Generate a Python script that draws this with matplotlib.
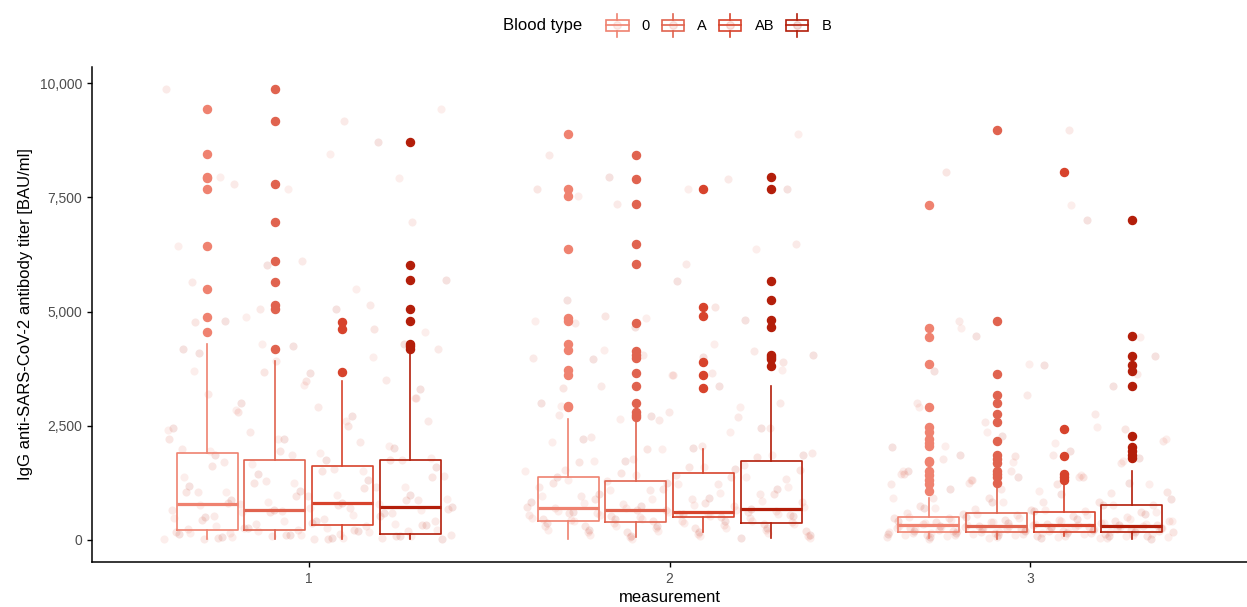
import matplotlib.pyplot as plt
from matplotlib.legend_handler import HandlerBase
from matplotlib.patches import Rectangle
from matplotlib.lines import Line2D
from matplotlib.ticker import FuncFormatter

plt.rcParams['font.family'] = ['Liberation Sans', 'DejaVu Sans']

measurements = [1, 2, 3]
blood_types = ['0', 'A', 'AB', 'B']
type_colors = ['#EF8270', '#E0634F', '#D7432C', '#B31E0A']

# box statistics, one row per measurement, one column per blood type
box_q1 = [[219, 204, 314, 132], [401, 380, 490, 366], [169, 169, 169, 169]]
box_med = [[789, 658, 804, 724], [695, 658, 607, 673], [314, 300, 322, 292]]
box_q3 = [[1893, 1748, 1608, 1739], [1367, 1279, 1454, 1732], [504, 577, 607, 753]]
whisk_lo = [[15, 10, 15, 15], [15, 60, 169, 37], [37, 22, 73, 22]]
whisk_hi = [[4291, 3925, 3472, 4100], [2654, 2617, 1996, 3377], [914, 1228, 1228, 1513]]

outliers_m1 = [
    [9437, 8458, 7954, 7917, 7691, 6441, 5498, 4884, 4561],
    [9868, 9182, 7785, 6952, 6112, 5658, 5154, 5066, 4189],
    [4766, 4620, 3678],
    [8706, 6015, 5686, 5051, 4787, 4298, 4240, 4189],
]
outliers_m2 = [
    [8897, 7676, 7529, 6382, 4850, 4790, 4290, 4160, 3710, 3600, 2940, 2910],
    [8421, 7895, 7362, 6470, 6053, 4759, 4130, 4057, 3985, 3648, 3370, 2997, 2792, 2741, 2690],
    [7676, 5095, 4898, 3897, 3619, 3318],
    [7939, 7676, 5680, 5248, 4825, 4664, 4042, 4000, 3960, 3801],
]
outliers_m3 = [
    [7332, 4649, 4437, 3845, 2901, 2471, 2354, 2208, 2120, 2047, 1732, 1700, 1498, 1410, 1316, 1221, 1075],
    [8976, 4803, 3641, 3165, 2997, 2763, 2573, 2157, 1864, 1776, 1681, 1500, 1440, 1367, 1250],
    [8048, 2420, 1842, 1440, 1367, 1300],
    [7003, 4459, 4035, 3838, 3706, 3377, 2281, 2025, 1952, 1864, 1791],
]

# individual titers inside the whiskers
inner_m1 = [
    [15, 30, 55, 80, 110, 140, 170, 200, 219, 250, 300, 350, 420, 480, 540, 600, 650, 700, 760, 789,
     830, 900, 980, 1050, 1150, 1250, 1380, 1500, 1650, 1800, 1893, 1950, 2050, 2200, 2400, 2600,
     2850, 3100, 3400, 3700, 4000, 4291],
    [10, 25, 45, 70, 95, 120, 150, 180, 204, 240, 290, 340, 400, 460, 520, 580, 630, 658, 700, 780,
     860, 950, 1050, 1150, 1280, 1400, 1550, 1700, 1748, 1850, 1980, 2150, 2350, 2600, 2900, 3200,
     3500, 3925],
    [15, 40, 70, 110, 160, 210, 260, 314, 370, 440, 520, 600, 680, 750, 804, 870, 950, 1040, 1140,
     1250, 1380, 1500, 1608, 1750, 1950, 2200, 2500, 2800, 3100, 3472],
    [15, 30, 50, 75, 100, 132, 180, 250, 330, 420, 500, 580, 650, 724, 800, 880, 970, 1070, 1180,
     1300, 1450, 1600, 1739, 1850, 2000, 2200, 2450, 2700, 3000, 3300, 3650, 4100],
]
inner_m2 = [
    [15, 40, 70, 100, 140, 180, 220, 260, 300, 340, 370, 401, 420, 450, 480, 510, 540, 570, 600, 630,
     660, 695, 720, 760, 800, 850, 900, 960, 1020, 1090, 1160, 1230, 1300, 1367, 1420, 1500, 1600,
     1720, 1850, 1980, 2150, 2350, 2654],
    [60, 90, 130, 170, 210, 250, 290, 330, 360, 380, 410, 440, 470, 500, 530, 560, 590, 620, 658, 690,
     730, 780, 830, 890, 950, 1010, 1080, 1150, 1220, 1279, 1340, 1420, 1520, 1630, 1760, 1900, 2050,
     2250, 2450, 2617],
    [169, 200, 250, 300, 350, 400, 450, 490, 510, 530, 560, 580, 607, 650, 720, 800, 900, 1000, 1120,
     1250, 1380, 1454, 1520, 1600, 1700, 1820, 1996],
    [37, 70, 110, 160, 210, 260, 310, 366, 410, 460, 510, 560, 610, 673, 740, 820, 910, 1010, 1120,
     1240, 1380, 1550, 1732, 1850, 2000, 2200, 2450, 2700, 3000, 3377],
]
inner_m3 = [
    [37, 45, 55, 65, 75, 85, 95, 105, 115, 125, 135, 145, 155, 162, 169, 175, 185, 195, 205, 215, 225,
     235, 245, 255, 265, 275, 285, 295, 305, 314, 325, 335, 345, 360, 375, 390, 405, 420, 440, 460,
     480, 504, 530, 560, 600, 650, 700, 760, 830, 914],
    [22, 35, 50, 65, 80, 95, 110, 125, 140, 155, 169, 180, 195, 210, 225, 240, 255, 270, 285, 300, 320,
     340, 360, 385, 410, 440, 470, 500, 540, 577, 620, 680, 750, 830, 920, 1020, 1120, 1228],
    [73, 90, 110, 130, 150, 169, 185, 200, 220, 240, 260, 280, 300, 322, 350, 380, 410, 440, 480,
     520, 560, 607, 660, 730, 820, 920, 1050, 1228],
    [22, 40, 60, 80, 100, 120, 140, 155, 169, 185, 200, 220, 240, 260, 275, 292, 320, 360, 400, 450,
     500, 560, 620, 690, 753, 820, 900, 1000, 1120, 1250, 1380, 1513],
]

outliers = [outliers_m1, outliers_m2, outliers_m3]
inner = [inner_m1, inner_m2, inner_m3]

fig = plt.figure(figsize=(12.47, 6.07), dpi=100)
ax = fig.add_axes([0.0738, 0.0741, 0.9262, 0.8155])

dodge = 0.1875
box_w = 0.169

for mi, m in enumerate(measurements):
    # jittered raw points, all blood types share one horizontal spread
    k = 0
    for ti, bt in enumerate(blood_types):
        vals = inner[mi][ti] + outliers[mi][ti]
        xs = []
        for _ in vals:
            xs.append(m + (((k * 0.6180339887 + 0.37 * mi) % 1) - 0.5) * 0.8)
            k += 1
        ax.scatter(xs, vals, s=34, color=type_colors[ti], alpha=0.13,
                   linewidths=0, zorder=1)

    for ti, bt in enumerate(blood_types):
        pos = m + (ti - 1.5) * dodge
        stats = [dict(med=box_med[mi][ti], q1=box_q1[mi][ti], q3=box_q3[mi][ti],
                      whislo=whisk_lo[mi][ti], whishi=whisk_hi[mi][ti],
                      fliers=outliers[mi][ti])]
        c = type_colors[ti]
        ax.bxp(stats, positions=[pos], widths=box_w, showcaps=False,
               manage_ticks=False,
               boxprops=dict(color=c, linewidth=1.2),
               whiskerprops=dict(color=c, linewidth=1.2),
               medianprops=dict(color=c, linewidth=2.3),
               flierprops=dict(marker='o', markerfacecolor=c, markeredgecolor=c,
                               markersize=5.8, alpha=1.0))

ax.set_xlim(0.4, 3.6)
ax.set_ylim(-490, 10360)
ax.set_xticks(measurements)
ax.set_xticklabels([str(m) for m in measurements])
ax.set_yticks([0, 2500, 5000, 7500, 10000])
ax.yaxis.set_major_formatter(FuncFormatter(lambda v, p: f'{int(v):,}'))

for side in ['top', 'right']:
    ax.spines[side].set_visible(False)
for side in ['left', 'bottom']:
    ax.spines[side].set_color('black')
    ax.spines[side].set_linewidth(1.1)
ax.tick_params(axis='both', colors='black', length=3.5, width=1.0,
               labelsize=10, labelcolor='#4D4D4D')

ax.set_xlabel('measurement', fontsize=12, labelpad=3, color='black')
ax.set_ylabel('IgG anti-SARS-CoV-2 antibody titer [BAU/ml]', fontsize=12,
              labelpad=5, color='black')


class BoxKeyHandler(HandlerBase):
    # small boxplot glyph for the legend keys
    def create_artists(self, legend, orig_handle, xdescent, ydescent,
                       width, height, fontsize, trans):
        c = orig_handle.get_color()
        cx = width / 2 - xdescent
        bh = height * 0.62
        by = (height - bh) / 2 - ydescent
        stub = height * 0.3
        rect = Rectangle((-xdescent, by), width, bh, fill=False,
                         edgecolor=c, linewidth=1.2, transform=trans)
        med = Line2D([-xdescent, width - xdescent], [by + bh / 2] * 2,
                     color=c, linewidth=1.2, transform=trans)
        wt = Line2D([cx, cx], [by + bh, by + bh + stub],
                    color=c, linewidth=1.2, transform=trans)
        wb = Line2D([cx, cx], [by, by - stub],
                    color=c, linewidth=1.2, transform=trans)
        dot = Line2D([cx], [by + bh / 2], marker='o', markersize=5.5,
                     color=c, alpha=0.15, linestyle='none', transform=trans)
        return [dot, rect, med, wt, wb]


handles = [Line2D([], [], color=c) for c in type_colors]
fig.text(0.403, 0.958, 'Blood type', fontsize=12, ha='left', va='center')
fig.legend(handles, blood_types, handler_map={Line2D: BoxKeyHandler()},
           loc='center left', bbox_to_anchor=(0.486, 0.958), ncol=4,
           frameon=False, fontsize=10.5, handlelength=1.55, handleheight=1.6,
           handletextpad=0.9, columnspacing=0.8, borderaxespad=0, borderpad=0)

fig.savefig('out.png', dpi=100)
